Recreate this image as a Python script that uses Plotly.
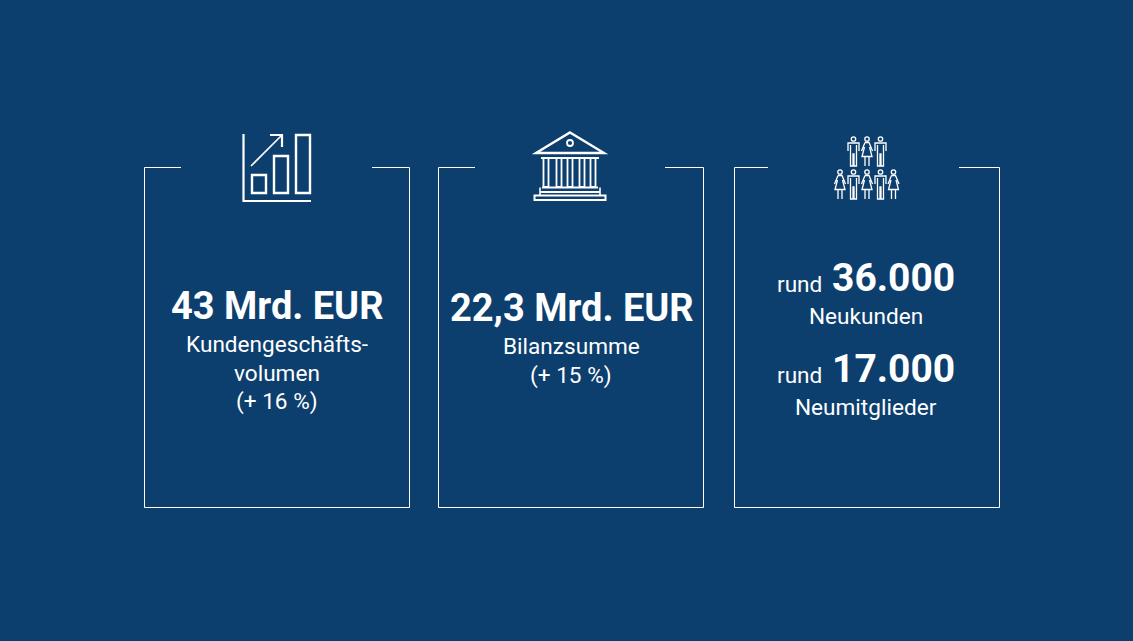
import plotly.graph_objects as go

BG = "#0c3f6e"
FG = "#ffffff"
FONT = "Roboto"

# the three frames: left, right, end of left top stroke, start of right top stroke
frames = [(144.5, 409.5, 181, 372), (438.5, 703.5, 475, 665), (734.5, 999.5, 768, 959)]
frame_top = 167.5
frame_bottom = 507.5

big_labels = [("43 Mrd. EUR", 277, 306), ("22,3 Mrd. EUR", 572, 308)]
big_numbers = [("36.000", 893.5, 278), ("17.000", 893.5, 369)]
small_labels = [
    ("Kundengeschäfts-", 277, 344), ("volumen", 277, 373), ("(+ 16 %)", 277, 401),
    ("Bilanzsumme", 571, 346), ("(+ 15 %)", 571, 375),
    ("rund", 799, 284), ("Neukunden", 866, 316),
    ("rund", 799, 375), ("Neumitglieder", 866, 407),
]

# people icon: (x of head, y of head, is_woman)
people = [
    (853.5, 139, False), (867, 139, True), (880.5, 139, False),
    (840, 172, True), (853.5, 172, False), (867, 172, True), (880.5, 172, False), (893.5, 172, True),
]

fig = go.Figure()
shapes = []


def path(d, width=1.0, fill=None):
    shapes.append(dict(type="path", path=d, line=dict(color=FG, width=width),
                       fillcolor=fill or "rgba(0,0,0,0)"))


def rect(x0, y0, x1, y1, width=2.4):
    shapes.append(dict(type="rect", x0=x0, y0=y0, x1=x1, y1=y1, line=dict(color=FG, width=width)))


for left, right, gap0, gap1 in frames:
    path(f"M{gap0},{frame_top} L{left},{frame_top} L{left},{frame_bottom} "
         f"L{right},{frame_bottom} L{right},{frame_top} L{gap1},{frame_top}")

# chart icon
path("M243.5,134 L243.5,201 L311,201", 2.2)
rect(252, 175, 266, 193)
rect(274, 156, 288, 193)
rect(296, 135, 310, 193)
path("M251,166 L282,135", 1.6)
path("M270,135 L282,135 L282,147", 2.2)

# bank icon
path("M570,132.5 L604,153 L536,153 Z", 2.4)
shapes.append(dict(type="circle", x0=567, y0=140, x1=573, y1=146, line=dict(color=FG, width=1.8)))
path("M541,158 L599,158", 1.8)
for cx in [546, 559, 570, 582, 593]:
    rect(cx - 2.5, 158, cx + 2.5, 187, 1.8)
path("M542,187.5 L598,187.5", 2.2)
path("M540,192 L600,192", 1.8)
path("M540,187.5 L540,195 M600,187.5 L600,195", 1.6)
rect(534.5, 195.5, 605.5, 200, 2)

# people icon
for x, y, woman in people:
    shapes.append(dict(type="circle", x0=x - 2.2, y0=y - 2.2, x1=x + 2.2, y1=y + 2.2,
                       line=dict(color=FG, width=1.3)))
    if woman:
        path(f"M{x-2},{y+3.5} L{x+2},{y+3.5} L{x+5.5},{y+12} M{x-2},{y+3.5} L{x-5.5},{y+12} "
             f"M{x-2.5},{y+8} L{x-5},{y+17.5} L{x+5},{y+17.5} L{x+2.5},{y+8} "
             f"M{x-2},{y+17.5} L{x-2},{y+27} M{x+2},{y+17.5} L{x+2},{y+27}", 1.3)
    else:
        path(f"M{x-5.5},{y+12} L{x-5.5},{y+4} L{x+5.5},{y+4} L{x+5.5},{y+12} "
             f"M{x-3},{y+6} L{x-3},{y+27} L{x-0.5},{y+27} L{x-0.5},{y+15} L{x+0.5},{y+15} "
             f"L{x+0.5},{y+27} L{x+3},{y+27} L{x+3},{y+6}", 1.3)

annotations = []
for text, x, y in big_labels:
    annotations.append(dict(x=x, y=y, text=f"<b>{text}</b>", showarrow=False,
                            xanchor="center", yanchor="middle",
                            font=dict(family=FONT, size=38, color=FG)))
for text, x, y in big_numbers:
    annotations.append(dict(x=x, y=y, text=f"<b>{text}</b>", showarrow=False,
                            xanchor="center", yanchor="middle",
                            font=dict(family=FONT, size=39, color=FG)))
for text, x, y in small_labels:
    annotations.append(dict(x=x, y=y, text=text, showarrow=False,
                            xanchor="center", yanchor="middle",
                            font=dict(family=FONT, size=22.6, color=FG)))

fig.update_layout(
    width=1133, height=641,
    margin=dict(l=0, r=0, t=0, b=0),
    paper_bgcolor=BG, plot_bgcolor=BG,
    showlegend=False,
    xaxis=dict(range=[0, 1133], visible=False, fixedrange=True),
    yaxis=dict(range=[641, 0], visible=False, fixedrange=True),
    shapes=shapes,
    annotations=annotations,
)

fig.write_html("out.html", config=dict(displayModeBar=False),
               post_script="document.body.style.margin='0';document.body.style.background='" + BG + "';")
